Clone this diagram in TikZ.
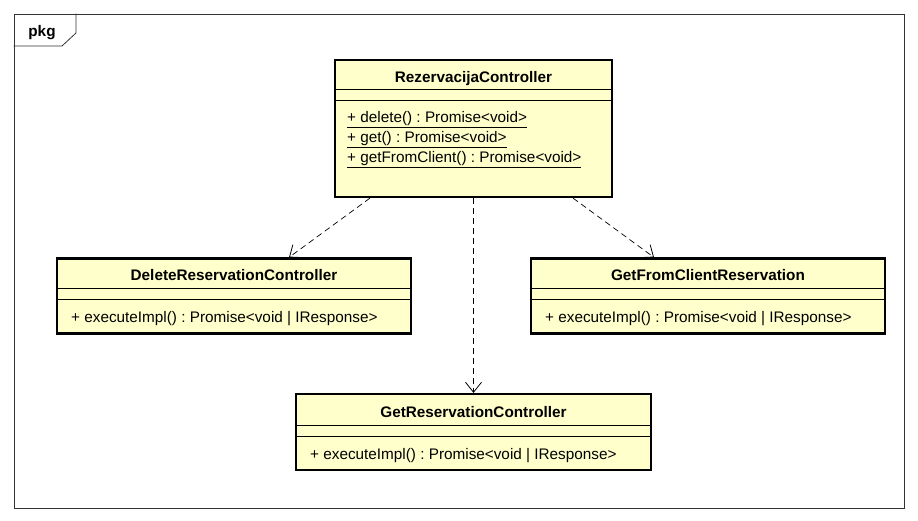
\documentclass[tikz,border=0pt]{standalone}
\usepackage{fontspec}
\setmainfont{Liberation Sans}
\usepackage{xcolor}
\usetikzlibrary{arrows.meta}

\definecolor{umlfill}{HTML}{FFFFCC}

\tikzset{
    classbox/.style={draw, line width=2.2pt, fill=umlfill, inner sep=0pt},
    classname/.style={font=\fontsize{15.3}{17}\selectfont\bfseries, inner sep=0pt},
    member/.style={font=\fontsize{15.3}{17}\selectfont, anchor=west, inner sep=0pt},
    sepline/.style={line width=0.6pt},
    dep/.style={dash pattern=on 6pt off 4pt, line width=0.7pt,
        -{Straight Barb[length=10pt, width=16pt, line width=0.8pt]}}
}

\begin{document}
\frenchspacing
\begin{tikzpicture}[x=1pt, y=-1pt]
    \useasboundingbox[fill=white] (0,0) rectangle (918,521);

    % Package frame
    \node[draw=black!80, line width=0.8pt, minimum width=890pt, minimum height=494pt, inner sep=0pt]
        (frame) at (459,261) {};
    \draw[black!80, line width=0.8pt] (frame.north west -| 76,0) -- (76,33) -- (62,46) -- (frame.west |- 0,46);
    \node[classname] (pkgLabel) at (42,33) {pkg};

    % RezervacijaController
    \node[classbox, minimum width=277pt, minimum height=137pt] (rez) at (473.5,128.5) {};
    \node[classname] (rezName) at (473.5,79) {RezervacijaController};
    \draw[sepline] (rez.west |- 0,89) -- (rez.east |- 0,89);
    \draw[sepline] (rez.west |- 0,100) -- (rez.east |- 0,100);
    \node[member] (rezDelete) at (347,120) {\underline{+ delete() : Promise<void>}};
    \node[member] (rezGet) at (347,140) {\underline{+ get() : Promise<void>}};
    \node[member] (rezClient) at (347,160) {\underline{+ getFromClient() : Promise<void>}};

    % DeleteReservationController
    \node[classbox, minimum width=354pt, minimum height=75pt] (del) at (234,296) {};
    \node[classname] (delName) at (234,275) {DeleteReservationController};
    \draw[sepline] (del.west |- 0,288) -- (del.east |- 0,288);
    \draw[sepline] (del.west |- 0,299) -- (del.east |- 0,299);
    \node[member] (delExec) at (71,319) {+ executeImpl() : Promise<void | IResponse>};

    % GetFromClientReservation
    \node[classbox, minimum width=354pt, minimum height=75pt] (client) at (708,296) {};
    \node[classname] (clientName) at (708,275) {GetFromClientReservation};
    \draw[sepline] (client.west |- 0,288) -- (client.east |- 0,288);
    \draw[sepline] (client.west |- 0,299) -- (client.east |- 0,299);
    \node[member] (clientExec) at (545,319) {+ executeImpl() : Promise<void | IResponse>};

    % GetReservationController
    \node[classbox, minimum width=355pt, minimum height=76pt] (get) at (473.5,432) {};
    \node[classname] (getName) at (473.5,412) {GetReservationController};
    \draw[sepline] (get.west |- 0,425) -- (get.east |- 0,425);
    \draw[sepline] (get.west |- 0,436) -- (get.east |- 0,436);
    \node[member] (getExec) at (310,456) {+ executeImpl() : Promise<void | IResponse>};

    % Dependencies
    \draw[dep] (rez.south -| 370,0) -- (del.north -| 289,0);
    \draw[dep] (rez.south) -- (get.north);
    \draw[dep] (rez.south -| 573,0) -- (client.north -| 654,0);

\end{tikzpicture}
\end{document}
